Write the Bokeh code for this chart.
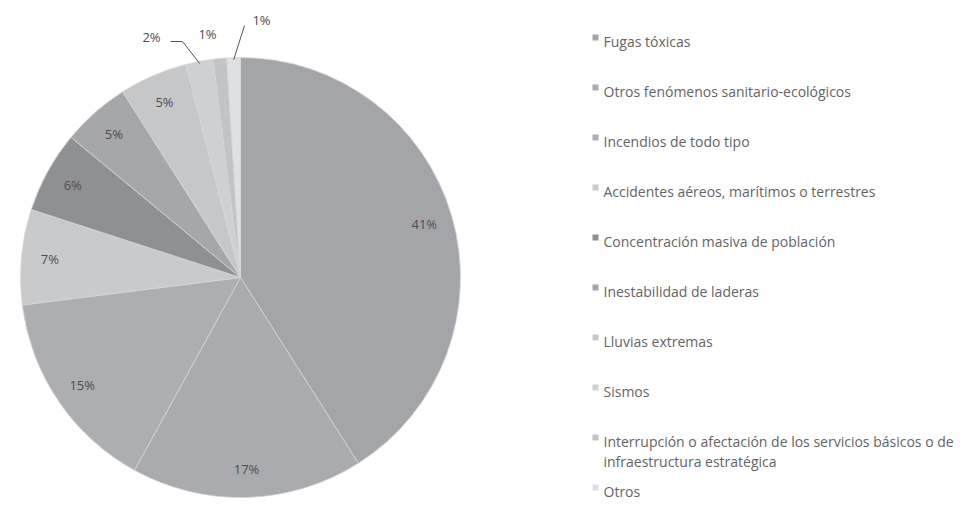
import math
from bokeh.plotting import figure
from bokeh.models import Range1d, ColumnDataSource
from bokeh.core.properties import value
from bokeh.embed import file_html
from bokeh.resources import INLINE

# ---- data ----
categories = [
    "Fugas tóxicas",
    "Otros fenómenos sanitario-ecológicos",
    "Incendios de todo tipo",
    "Accidentes aéreos, marítimos o terrestres",
    "Concentración masiva de población",
    "Inestabilidad de laderas",
    "Lluvias extremas",
    "Sismos",
    "Interrupción o afectación de los servicios básicos o de\ninfraestructura estratégica",
    "Otros",
]
percentages = [41, 17, 15, 7, 6, 5, 5, 2, 1, 1]
pct_labels = ["41%", "17%", "15%", "7%", "6%", "5%", "5%", "2%", "1%", "1%"]
colors = ["#a4a5a9", "#aaabae", "#adaeb1", "#c9cacc", "#8f9093",
          "#a6a7aa", "#c6c7c9", "#cfd0d2", "#c3c4c6", "#dfe0e2"]

# ---- layout (pixel coordinates inside the figure, y measured downward) ----
W, H = 957, 501
CX, CY, R = 240, 277, 220
LABEL_R = 0.87
FONT = "Open Sans"

p = figure(width=W, height=H, output_backend="svg", toolbar_location=None,
           x_range=Range1d(0, W), y_range=Range1d(-H, 0),
           min_border=0, border_fill_color="white", outline_line_color=None)
p.axis.visible = False
p.grid.visible = False

total = float(sum(percentages))
starts, ends, mids = [], [], []
cum = 0.0
for v in percentages:
    a0 = math.pi / 2 - 2 * math.pi * cum / total
    cum += v
    a1 = math.pi / 2 - 2 * math.pi * cum / total
    starts.append(a0)
    ends.append(a1)
    mids.append((a0 + a1) / 2)

src = ColumnDataSource(dict(start=starts, end=ends, color=colors))
p.wedge(x=CX, y=-CY, radius=R, start_angle="start", end_angle="end",
        direction="clock", fill_color="color", line_color="#d4d5d7",
        line_width=0.8, source=src)

# in-slice percentage labels
big = [i for i, v in enumerate(percentages) if v >= 5]
lx = [CX + LABEL_R * R * math.cos(mids[i]) for i in big]
ly = [-CY + LABEL_R * R * math.sin(mids[i]) for i in big]
p.text(x=lx, y=ly, text=[pct_labels[i] for i in big], text_font=value(FONT),
       text_font_size="13px", text_color="#4d4d4f", text_align="center",
       text_baseline="middle")

# outside labels for the thin slices (layout positions)
outside_pos = {7: (151, 36), 8: (207, 33), 9: (261, 19)}
elbows = {7: [(182, 41), (170, 41)], 9: [(244, 25)]}
for i, (tx, ty) in outside_pos.items():
    p.text(x=[tx], y=[-ty], text=[pct_labels[i]], text_font=value(FONT),
           text_font_size="13px", text_color="#4d4d4f", text_align="center",
           text_baseline="middle")
    if i in elbows:
        ex = CX + 0.99 * R * math.cos(mids[i])
        ey = -CY + 0.99 * R * math.sin(mids[i])
        xs = [ex] + [e[0] for e in elbows[i]]
        ys = [ey] + [-e[1] for e in elbows[i]]
        p.line(xs, ys, line_color="#555557", line_width=1)

# legend
LEG_X, LEG_Y0, LEG_DY, LINE2_DY = 603, 41, 50, 20
rows_y = [LEG_Y0 + LEG_DY * k for k in range(len(categories))]
p.rect(x=[LEG_X - 8] * len(categories), y=[-(y - 4) for y in rows_y],
       width=6, height=6, fill_color=colors, line_color=None)
txt_x, txt_y, txt = [], [], []
for cat, y in zip(categories, rows_y):
    for j, line in enumerate(cat.split("\n")):
        txt_x.append(LEG_X)
        txt_y.append(-(y + j * LINE2_DY))
        txt.append(line)
p.text(x=txt_x, y=txt_y, text=txt, text_font=value(FONT),
       text_font_size="14px", text_color="#646466", text_align="left",
       text_baseline="middle")

open("out.html", "w").write(file_html(p, INLINE))
